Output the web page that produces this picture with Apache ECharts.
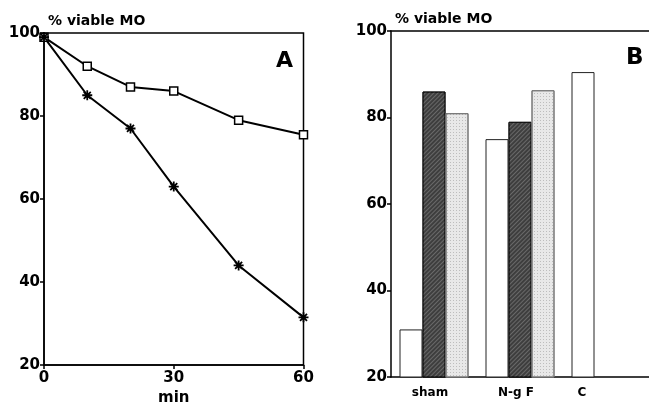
<!DOCTYPE html>
<html>
<head>
<meta charset="utf-8">
<script src="https://cdn.jsdelivr.net/npm/echarts@6/dist/echarts.min.js"></script>
<style>
  html, body { margin: 0; padding: 0; background: #fff; }
  #chart { width: 649px; height: 411px; }
</style>
</head>
<body>
<div id="chart"></div>
<script>
// panel A: viability over time
const minutes = [0, 10, 20, 30, 45, 60];
const squareValues = [99, 92, 87, 86, 79, 75.5];
const starValues = [99, 85, 77, 63, 44, 31.5];

// panel B: groups
const groups = ['sham', 'N-g F', 'C'];
const whiteBars = [31, 75, 90.5];
const darkBars = [86, 79, null];
const lightBars = [81, 86.3, null];

const FONT = 'DejaVu Sans';
const starPath = 'path://M-5,-0.9L5,-0.9L5,0.9L-5,0.9Z' +
    'M-0.9,-5L0.9,-5L0.9,5L-0.9,5Z' +
    'M-2.86,-4.14L4.14,2.86L2.86,4.14L-4.14,-2.86Z' +
    'M4.14,-2.86L-2.86,4.14L-4.14,2.86L2.86,-4.14Z';

const pairs = (xs, ys) => xs.map((x, i) => [x, ys[i]]);

const axisLbl = { color: '#000', fontFamily: FONT, fontWeight: 'bold', fontSize: 15 };
const blackLine = { color: '#000', width: 1.5 };
const yAxisBase = {
    type: 'value', min: 20, max: 100, interval: 20,
    splitLine: { show: false },
    axisLine: { show: true, lineStyle: blackLine },
    axisTick: { show: true, length: 4, lineStyle: blackLine },
    axisLabel: Object.assign({ margin: 4 }, axisLbl),
    name: '% viable MO',
    nameLocation: 'end',
    nameGap: 5,
    nameTextStyle: { color: '#000', fontFamily: FONT, fontWeight: 'bold', fontSize: 14,
        align: 'left', verticalAlign: 'bottom', padding: [0, 0, 0, 4] }
};

const chart = echarts.init(document.getElementById('chart'));
chart.setOption({
    animation: false,
    backgroundColor: '#fff',
    grid: [
        { left: 44, top: 33, width: 259.5, bottom: 36, show: true, borderColor: '#000', borderWidth: 1.5 },
        { left: 391, top: 31, width: 261, bottom: 34 }
    ],
    xAxis: [
        {
            gridIndex: 0, type: 'value', min: 0, max: 60, interval: 30,
            splitLine: { show: false },
            axisLine: { lineStyle: blackLine },
            axisTick: { length: 4, lineStyle: blackLine },
            axisLabel: Object.assign({ margin: 6 }, axisLbl),
            name: 'min', nameLocation: 'middle', nameGap: 25,
            nameTextStyle: { color: '#000', fontFamily: FONT, fontWeight: 'bold', fontSize: 15 }
        },
        {
            gridIndex: 1, type: 'category', data: groups,
            axisLine: { lineStyle: blackLine },
            axisTick: { show: false },
            axisLabel: {
                interval: 0,
                color: '#000', fontFamily: FONT, fontWeight: 'bold', fontSize: 12, margin: 10,
                formatter: v => v === 'C' ? '{c|' + v + '}' : '{g|' + v + '}',
                rich: {
                    g: { fontFamily: FONT, fontWeight: 'bold', fontSize: 12, padding: [0, 8, 0, 0] },
                    c: { fontFamily: FONT, fontWeight: 'bold', fontSize: 12, padding: [0, 48, 0, 0] }
                }
            }
        },
        {
            // top frame line of panel B
            gridIndex: 1, type: 'category', data: groups, position: 'top',
            axisLine: { lineStyle: blackLine },
            axisTick: { show: false },
            axisLabel: { show: false }
        }
    ],
    yAxis: [
        Object.assign({ gridIndex: 0 }, yAxisBase),
        Object.assign({ gridIndex: 1 }, yAxisBase)
    ],
    graphic: [
        { type: 'text', left: 276, top: 50, style: { text: 'A', fontFamily: FONT, fontWeight: 'bold', fontSize: 22, fill: '#000' } },
        { type: 'text', left: 626, top: 47, style: { text: 'B', fontFamily: FONT, fontWeight: 'bold', fontSize: 23, fill: '#000' } }
    ],
    series: [
        {
            type: 'line', xAxisIndex: 0, yAxisIndex: 0,
            data: pairs(minutes, squareValues),
            symbol: 'rect', symbolSize: 8,
            lineStyle: { color: '#000', width: 2 },
            itemStyle: { color: '#fff', borderColor: '#000', borderWidth: 1.5 }
        },
        {
            type: 'line', xAxisIndex: 0, yAxisIndex: 0,
            data: pairs(minutes, starValues),
            symbol: starPath, symbolSize: 10,
            lineStyle: { color: '#000', width: 2 },
            itemStyle: { color: '#000', borderWidth: 0 }
        },
        {
            type: 'bar', xAxisIndex: 1, yAxisIndex: 1,
            data: whiteBars, barWidth: 23, barGap: '0%',
            itemStyle: { color: '#fff', borderColor: '#222', borderWidth: 1 }
        },
        {
            type: 'bar', xAxisIndex: 1, yAxisIndex: 1,
            data: darkBars, barWidth: 23, barGap: '0%',
            itemStyle: {
                color: '#3e3e3e', borderColor: '#111', borderWidth: 1,
                decal: { symbol: 'rect', symbolSize: 1, color: 'rgba(140,140,140,0.55)',
                    dashArrayX: [1, 0], dashArrayY: [1, 2], rotation: -Math.PI / 4 }
            }
        },
        {
            type: 'bar', xAxisIndex: 1, yAxisIndex: 1,
            data: lightBars, barWidth: 23, barGap: '0%',
            itemStyle: {
                color: '#e8e8e8', borderColor: '#777', borderWidth: 1,
                decal: { symbol: 'rect', symbolSize: 1, color: 'rgba(110,110,110,0.35)',
                    dashArrayX: [1, 2], dashArrayY: [1, 2], rotation: 0 }
            }
        }
    ]
});
</script>
</body>
</html>
